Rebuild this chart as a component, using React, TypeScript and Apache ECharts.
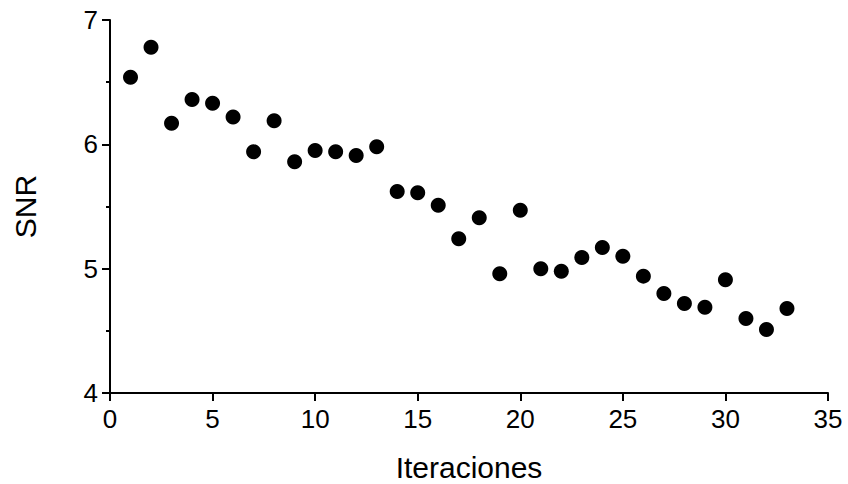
import React, { useEffect, useRef } from "react";
import * as echarts from "echarts";

const iterations = [1,2,3,4,5,6,7,8,9,10,11,12,13,14,15,16,17,18,19,20,21,22,23,24,25,26,27,28,29,30,31,32,33];
const snr = [6.54,6.78,6.17,6.36,6.33,6.22,5.94,6.19,5.86,5.95,5.94,5.91,5.98,5.62,5.61,5.51,5.24,5.41,4.96,5.47,5.00,4.98,5.09,5.17,5.10,4.94,4.80,4.72,4.69,4.91,4.60,4.51,4.68];

const xTitle = "Iteraciones";
const yTitle = "SNR";
const FONT = "'Liberation Sans', Arial, Helvetica, sans-serif";

export default function App() {
  const ref = useRef<HTMLDivElement>(null);
  useEffect(() => {
    if (!ref.current) return;
    const chart = echarts.init(ref.current, null, { renderer: "svg" });
    const axisLine = { show: true, lineStyle: { color: "#000", width: 2 } };
    chart.setOption({
      animation: false,
      backgroundColor: "#fff",
      grid: { left: 110, right: 20, top: 20, bottom: 91, containLabel: false, outerBoundsMode: "none" },
      xAxis: {
        type: "value",
        min: 0,
        max: 35,
        interval: 5,
        name: xTitle,
        nameLocation: "middle",
        nameGap: 63,
        nameTextStyle: { fontSize: 30, lineHeight: 22, color: "#000", fontFamily: FONT },
        axisLine,
        axisTick: { show: true, length: 8, lineStyle: { color: "#000", width: 2 } },
        axisLabel: { fontSize: 26, color: "#000", fontFamily: FONT, margin: 13 },
        splitLine: { show: false },
      },
      yAxis: {
        type: "value",
        min: 4,
        max: 7,
        interval: 1,
        name: yTitle,
        nameLocation: "middle",
        nameGap: 70,
        nameRotate: 90,
        nameTextStyle: { fontSize: 30, color: "#000", fontFamily: FONT },
        axisLine,
        axisTick: { show: true, length: 8, lineStyle: { color: "#000", width: 2 } },
        minorTick: { show: true, splitNumber: 2, length: 4, lineStyle: { color: "#000", width: 2 } },
        axisLabel: { fontSize: 26, color: "#000", fontFamily: FONT, margin: 12 },
        splitLine: { show: false },
        minorSplitLine: { show: false },
      },
      series: [
        {
          type: "scatter",
          data: iterations.map((x, i) => [x, snr[i]]),
          symbol: "circle",
          symbolSize: 15,
          itemStyle: { color: "#000", opacity: 1 },
        },
      ],
    });
    return () => chart.dispose();
  }, []);
  return (
    <div
      ref={ref}
      style={{ position: "fixed", left: 0, top: 0, width: 848, height: 484, background: "#fff" }}
    />
  );
}
